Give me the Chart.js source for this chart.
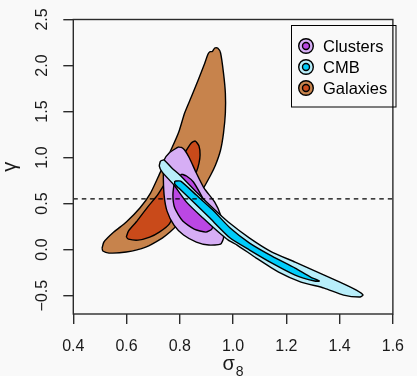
<!DOCTYPE html>
<html><head><meta charset="utf-8">
<script src="https://cdn.jsdelivr.net/npm/chart.js@4"></script>
<style>html,body{margin:0;padding:0;background:#f9f9f9;}canvas{display:block;}</style>
</head><body>
<canvas id="c" width="417" height="376"></canvas>
<script>
// ---- data ----
const xTicks = [0.4, 0.6, 0.8, 1.0, 1.2, 1.4, 1.6];
const yTicks = [-0.5, 0.0, 0.5, 1.0, 1.5, 2.0, 2.5];
const seriesNames = ['Clusters', 'CMB', 'Galaxies'];
const gammaRef = 0.55;
const xTitle = 'σ', xTitleSub = '8', yTitle = 'γ';

const galaxies95 = [[0.508,0.016],[0.515,0.082],[0.552,0.190],[0.599,0.299],[0.650,0.451],[0.690,0.614],[0.727,0.842],[0.770,1.103],[0.796,1.277],[0.818,1.484],[0.843,1.658],[0.869,1.842],[0.891,2.005],[0.906,2.125],[0.914,2.150],[0.922,2.152],[0.931,2.190],[0.942,2.190],[0.953,2.136],[0.964,1.918],[0.971,1.701],[0.971,1.484],[0.964,1.266],[0.953,1.082],[0.934,0.918],[0.916,0.810],[0.880,0.625],[0.832,0.429],[0.789,0.266],[0.763,0.190],[0.734,0.125],[0.672,0.027],[0.599,-0.027],[0.534,-0.038],[0.511,-0.016]];
const galaxies68 = [[0.599,0.136],[0.607,0.201],[0.636,0.299],[0.679,0.462],[0.716,0.592],[0.752,0.755],[0.796,0.951],[0.825,1.082],[0.843,1.158],[0.858,1.179],[0.872,1.125],[0.876,1.027],[0.872,0.940],[0.862,0.842],[0.832,0.668],[0.796,0.484],[0.760,0.277],[0.723,0.190],[0.687,0.136],[0.643,0.103],[0.607,0.114]];
const clusters95 = [[0.793,1.114],[0.760,1.049],[0.741,0.973],[0.738,0.842],[0.741,0.592],[0.752,0.418],[0.778,0.266],[0.814,0.158],[0.862,0.082],[0.909,0.049],[0.953,0.060],[0.964,0.125],[0.962,0.234],[0.953,0.375],[0.931,0.516],[0.891,0.668],[0.862,0.832],[0.836,0.995],[0.818,1.082],[0.806,1.110]];
const clusters68 = [[0.807,0.821],[0.781,0.734],[0.774,0.592],[0.781,0.451],[0.811,0.310],[0.854,0.223],[0.898,0.190],[0.920,0.223],[0.927,0.299],[0.909,0.429],[0.880,0.592],[0.851,0.734],[0.825,0.799]];
const cmb95 = [[0.727,0.962],[0.741,0.973],[0.770,0.886],[0.800,0.810],[0.862,0.625],[0.924,0.451],[0.982,0.299],[1.062,0.125],[1.146,-0.027],[1.233,-0.136],[1.317,-0.245],[1.401,-0.353],[1.463,-0.440],[1.488,-0.495],[1.474,-0.516],[1.415,-0.495],[1.342,-0.418],[1.255,-0.353],[1.171,-0.245],[1.087,-0.092],[1.015,0.049],[0.982,0.103],[0.945,0.190],[0.887,0.342],[0.825,0.516],[0.778,0.701],[0.734,0.842],[0.723,0.908]];
const cmb68 = [[0.781,0.744],[0.803,0.744],[0.862,0.592],[0.924,0.429],[0.989,0.234],[1.062,0.071],[1.146,-0.071],[1.233,-0.201],[1.291,-0.299],[1.324,-0.342],[1.306,-0.342],[1.233,-0.277],[1.146,-0.147],[1.062,-0.005],[0.989,0.125],[0.909,0.353],[0.851,0.516],[0.796,0.668],[0.781,0.712]];

// ---- styles ----
const FONT = '"Liberation Sans", Arial, Helvetica, sans-serif';
const colors = {
  Clusters: ['#D6AEF5', '#BB47E4'],
  CMB: ['#B8EEFA', '#00CCFA'],
  Galaxies: ['#C7834C', '#C94A1A']
};
const fmt = v => v.toFixed(1).replace('-', '\u2212');

function contour(points, fillColor, order) {
  const pts = points.map(p => ({x: p[0], y: p[1]}));
  pts.push({x: points[0][0], y: points[0][1]});
  return {
    data: pts, backgroundColor: fillColor, borderColor: '#000', borderWidth: 1.4,
    fill: 'shape', pointRadius: 0, pointHoverRadius: 0, tension: 0.2,
    borderJoinStyle: 'round', order: order
  };
}

const decor = {
  id: 'decor',
  afterDraw(chart) {
    const {ctx, chartArea: a, scales: {x, y}} = chart;
    ctx.save();
    // plot box
    ctx.strokeStyle = '#2b2b2b'; ctx.lineWidth = 1.4;
    ctx.strokeRect(a.left, a.top, a.right - a.left, a.bottom - a.top);
    // y tick labels (rotated, as in R)
    ctx.fillStyle = '#1a1a1a';
    ctx.font = '16px ' + FONT;
    ctx.textAlign = 'center'; ctx.textBaseline = 'middle';
    yTicks.forEach(v => {
      ctx.save();
      ctx.translate(43, y.getPixelForValue(v));
      ctx.rotate(-Math.PI / 2);
      ctx.fillText(fmt(v), 0, 0);
      ctx.restore();
    });
    // y title
    ctx.save();
    ctx.font = '20px ' + FONT;
    ctx.translate(16, (a.top + a.bottom) / 2);
    ctx.rotate(-Math.PI / 2);
    ctx.textBaseline = 'alphabetic';
    ctx.fillText(yTitle, 0, 0);
    ctx.restore();
    // x title with subscript
    ctx.textBaseline = 'alphabetic'; ctx.textAlign = 'left';
    ctx.font = '20px ' + FONT;
    const w1 = ctx.measureText(xTitle).width;
    ctx.font = '14px ' + FONT;
    const w2 = ctx.measureText(xTitleSub).width;
    const cx = (a.left + a.right) / 2;
    const sx = cx - (w1 + w2 + 1) / 2;
    ctx.font = '20px ' + FONT;
    ctx.fillText(xTitle, sx, 369.5);
    ctx.font = '14px ' + FONT;
    ctx.fillText(xTitleSub, sx + w1 + 1, 375.5);
    // legend
    ctx.lineWidth = 1;
    ctx.strokeStyle = '#000';
    ctx.strokeRect(291.5, 25.5, 104.5, 81.5);
    ctx.font = '16.5px ' + FONT;
    ctx.textBaseline = 'middle'; ctx.textAlign = 'left';
    seriesNames.forEach((name, i) => {
      const ly = 46 + i * 21;
      ctx.lineWidth = 1.4;
      ctx.beginPath(); ctx.arc(306, ly, 7.3, 0, Math.PI * 2);
      ctx.fillStyle = colors[name][0]; ctx.fill(); ctx.stroke();
      ctx.beginPath(); ctx.arc(306, ly, 3.5, 0, Math.PI * 2);
      ctx.fillStyle = colors[name][1]; ctx.fill(); ctx.stroke();
      ctx.fillStyle = '#000';
      ctx.fillText(name, 323, ly + 1);
    });
    ctx.restore();
  }
};

const gridOpts = {drawOnChartArea: false, drawTicks: true, tickLength: 10, color: '#2b2b2b', lineWidth: 1.4};

new Chart(document.getElementById('c'), {
  type: 'line',
  data: {
    datasets: [
      contour(galaxies95, colors.Galaxies[0], 6),
      contour(galaxies68, colors.Galaxies[1], 5),
      contour(clusters95, colors.Clusters[0], 4),
      contour(clusters68, colors.Clusters[1], 3),
      contour(cmb95, colors.CMB[0], 2),
      contour(cmb68, colors.CMB[1], 1),
      {
        data: [{x: xTicks[0], y: gammaRef}, {x: xTicks[xTicks.length - 1], y: gammaRef}],
        borderColor: '#000', borderWidth: 1.3, borderDash: [4.5, 4], fill: false,
        pointRadius: 0, pointHoverRadius: 0, order: 0
      }
    ]
  },
  options: {
    responsive: false, animation: false, devicePixelRatio: 1, events: [],
    layout: {padding: {top: 19.5, right: 14.3, left: 0, bottom: 0}},
    plugins: {legend: {display: false}, tooltip: {enabled: false}},
    scales: {
      x: {
        type: 'linear', min: 0.4, max: 1.6,
        afterBuildTicks: s => { s.ticks = xTicks.map(v => ({value: v})); },
        afterFit: s => { s.height = 62; },
        ticks: {font: {size: 16, family: FONT}, color: '#1a1a1a', padding: 13, maxRotation: 0, autoSkip: false, callback: v => fmt(v)},
        grid: gridOpts, border: {display: false}
      },
      y: {
        type: 'linear', min: -0.7, max: 2.5,
        afterBuildTicks: s => { s.ticks = yTicks.map(v => ({value: v})); },
        afterFit: s => { s.width = 73.3; },
        ticks: {display: false},
        grid: gridOpts, border: {display: false}
      }
    }
  },
  plugins: [decor]
});
</script>
</body></html>
